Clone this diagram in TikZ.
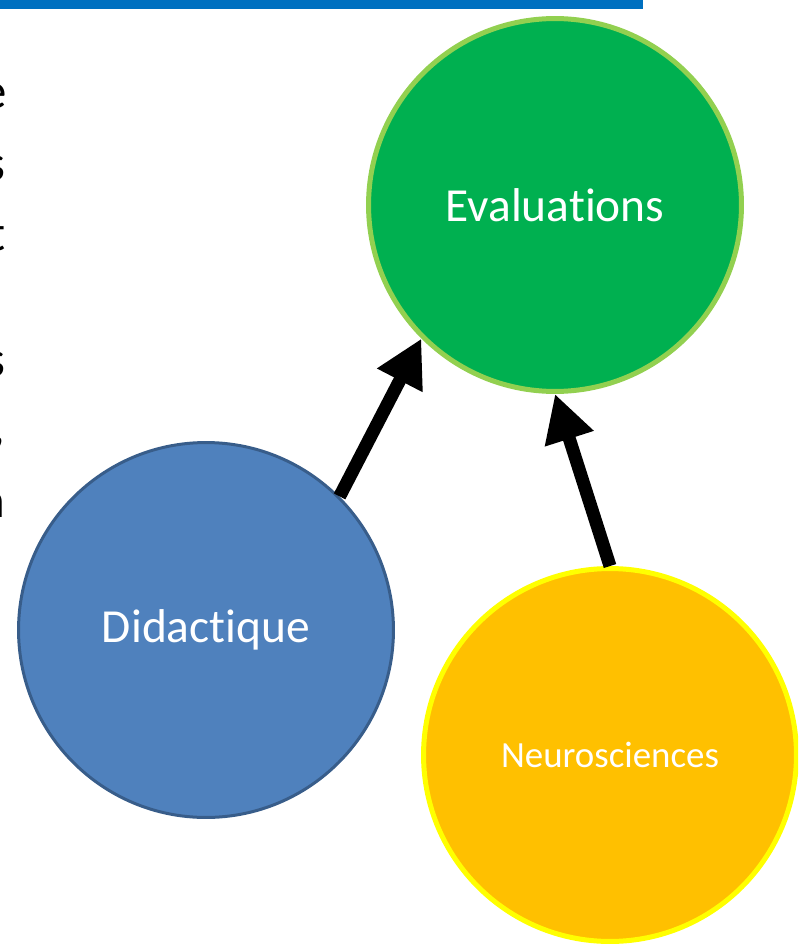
\documentclass[tikz,border=0pt]{standalone}
\usepackage{fontspec}
\setmainfont{Carlito}[Ligatures={NoCommon}]
\usetikzlibrary{arrows.meta,shapes}

\definecolor{barblue}{HTML}{0070C0}
\definecolor{evalfill}{HTML}{00B050}
\definecolor{evalline}{HTML}{92D050}
\definecolor{didafill}{HTML}{4F81BD}
\definecolor{didaline}{HTML}{385D8A}
\definecolor{neurofill}{HTML}{FFC000}
\definecolor{neuroline}{HTML}{FFFF00}

\tikzset{
  bubble/.style={circle, inner sep=0pt, text=white, minimum size=7.46cm},
  bigarrow/.style={line width=0.26cm, -{Triangle[width=0.96cm,length=0.94cm]}},
  cutletter/.style={anchor=base east, inner sep=0pt, font=\fontsize{29}{34}\selectfont}
}

\begin{document}
\begin{tikzpicture}[x=0.02cm, y=-0.02cm]
\useasboundingbox (0,0) rectangle (798,946);
\begin{scope}
\clip (0,0) rectangle (798,946);

% title bar
\fill[barblue] (0,0) rectangle (643,9);

% line ends of the slide text
\node[cutletter] (l1) at (7,109) {e};
\node[cutletter] (l2) at (6,180) {s};
\node[cutletter] (l3) at (6,250) {t};
\node[cutletter] (l4) at (6,376) {s};
\node[cutletter] (l5) at (6,443) {,};
\node[cutletter] (l6) at (6,517) {n};

% circles
\node[bubble, fill=evalfill, draw=evalline, line width=0.1cm,
      font=\fontsize{27}{32}\selectfont] (eval) at (555,205) {Evaluations};
\node[bubble, fill=didafill, draw=didaline, line width=0.06cm, minimum size=7.5cm,
      font=\fontsize{27}{32}\selectfont] (dida) at (206,630) {Didactique};
\node[bubble, fill=neurofill, draw=neuroline, line width=0.1cm,
      font=\fontsize{21}{25}\selectfont] (neuro) at (610,755) {Neurosciences};

% arrows
\draw[bigarrow] (dida.45) -- (eval.225);
\draw[bigarrow] (neuro.north) -- (eval.south);
\end{scope}
\end{tikzpicture}
\end{document}
